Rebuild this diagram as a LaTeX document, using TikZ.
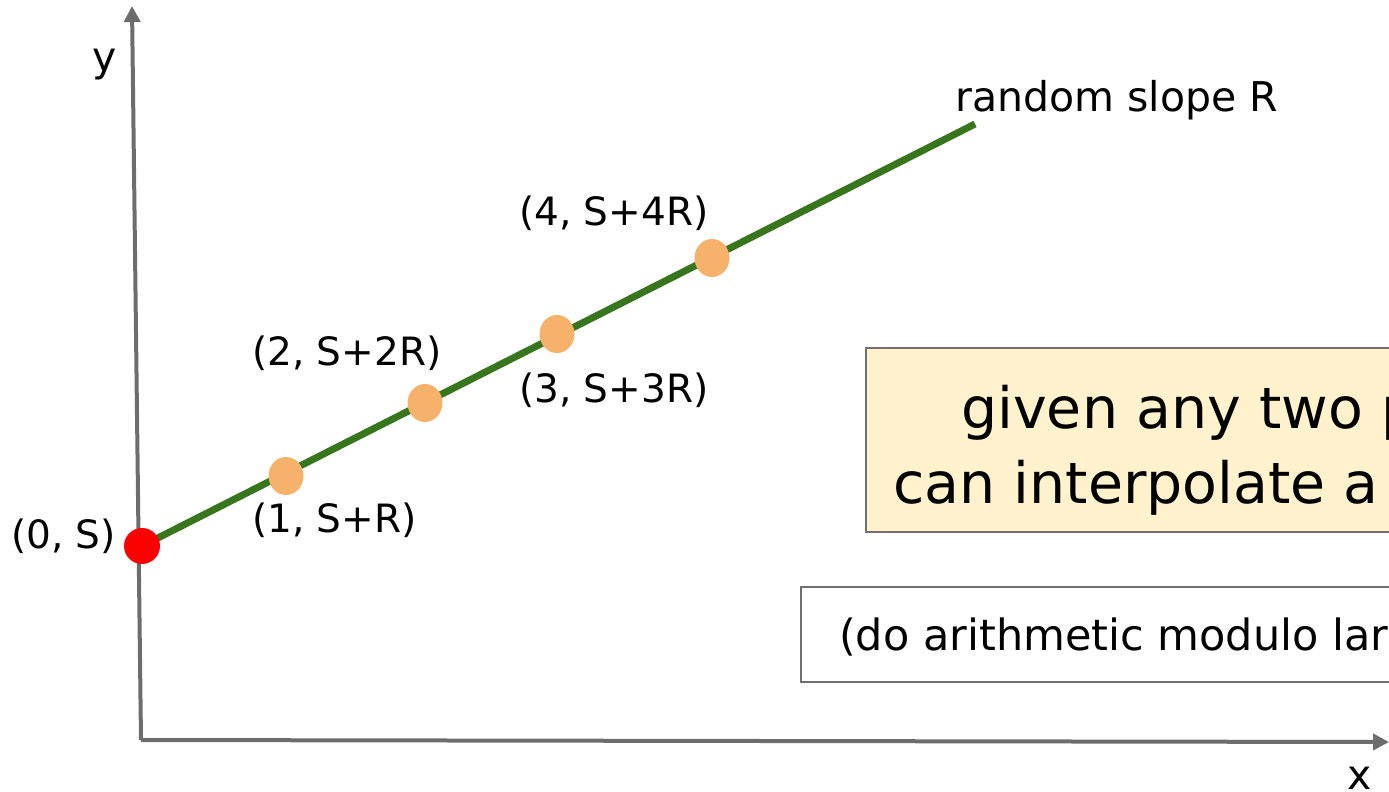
\documentclass[tikz,border=0pt]{standalone}
\usepackage{fontspec}
\setmainfont{DejaVu Sans}
\usetikzlibrary{arrows.meta,shapes.geometric}
\definecolor{axisgray}{HTML}{6D6D6D}
\definecolor{linegreen}{HTML}{38761D}
\definecolor{dotorange}{HTML}{F6B26B}
\definecolor{boxyellow}{HTML}{FFF2CC}
\definecolor{boxborder}{HTML}{707070}
\begin{document}
\begin{tikzpicture}[x=1pt,y=-1pt,
  axis/.style={draw=axisgray,line width=4pt,-{Triangle[length=16pt,width=16pt]}},
  lbl/.style={inner sep=0pt,anchor=base west,font=\fontsize{39}{46}\selectfont},
  ptdot/.style={ellipse,fill=dotorange,minimum width=35pt,minimum height=38pt,inner sep=0pt},
  startdot/.style={circle,fill=red,minimum size=36pt,inner sep=0pt},
  bigtxt/.style={inner sep=0pt,anchor=base west,font=\fontsize{57}{68}\selectfont},
  smalltxt/.style={inner sep=0pt,anchor=base west,font=\fontsize{43}{50}\selectfont}]
\clip (0,0) rectangle (1389,792);
\useasboundingbox (0,0) rectangle (1389,792);
% axes
\coordinate (origin) at (141,740);
\coordinate (ytip) at (132,6);
\coordinate (xtip) at (1389,742);
\draw[axis] (origin) -- (ytip);
\draw[axis] (origin) -- (xtip);
\node[lbl,font=\fontsize{41}{48}\selectfont] (ylabel) at (92,71) {y};
\node[lbl,font=\fontsize{41}{48}\selectfont] (xlabel) at (1347,789) {x};
% line
\coordinate (c0) at (142,546);
\coordinate (c1) at (286,476);
\coordinate (c2) at (425,403);
\coordinate (c3) at (557,334);
\coordinate (c4) at (712,258);
\coordinate (cend) at (975,124);
\draw[linegreen,line width=7pt] (c0) -- (cend);
\node[startdot] (p0) at (c0) {};
\node[ptdot] (p1) at (c1) {};
\node[ptdot] (p2) at (c2) {};
\node[ptdot] (p3) at (c3) {};
\node[ptdot] (p4) at (c4) {};
% labels
\node[lbl] (l0) at (11,548) {(0, S)};
\node[lbl] (l1) at (252,532) {(1, S+R)};
\node[lbl] (l2) at (252,365) {(2, S+2R)};
\node[lbl] (l3) at (519,402) {(3, S+3R)};
\node[lbl] (l4) at (519,225) {(4, S+4R)};
\node[lbl,font=\fontsize{41}{48}\selectfont] (slope) at (955,111) {random slope R};
% boxes
\draw[fill=boxyellow,draw=boxborder,line width=2pt] (866,348) rectangle (1420,532);
\node[bigtxt] (t1) at (961,428) {given any two p};
\node[bigtxt] (t2) at (893,503) {can interpolate a};
\draw[fill=white,draw=boxborder,line width=2pt] (801,587) rectangle (1420,682);
\node[smalltxt] (t3) at (839,650) {(do arithmetic modulo lar};
\end{tikzpicture}
\end{document}
